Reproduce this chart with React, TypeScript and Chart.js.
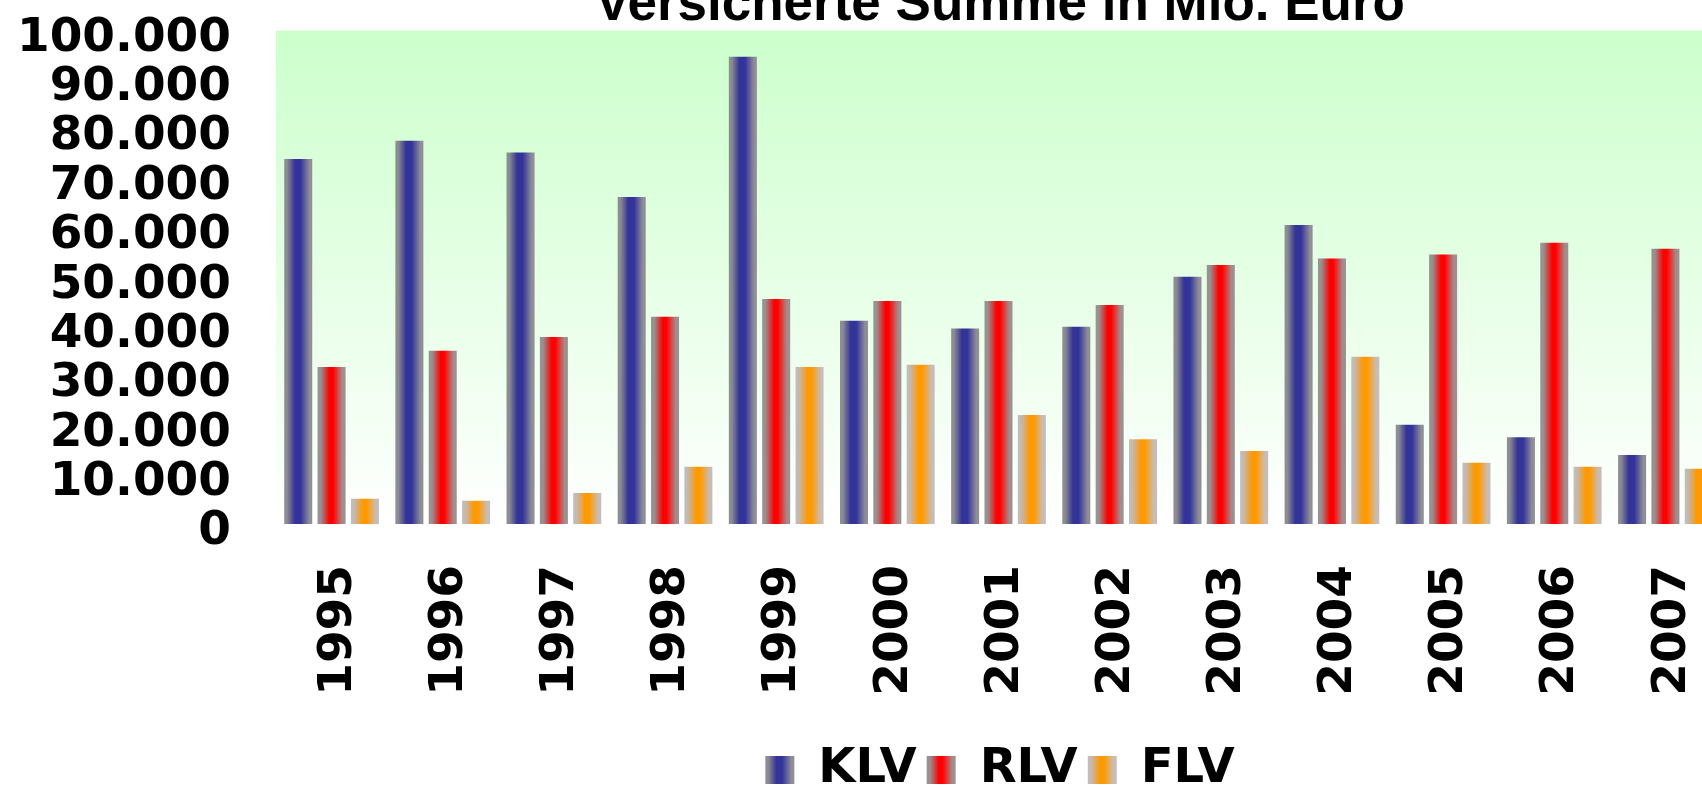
import React, { useEffect, useRef } from 'react';
import { Chart, registerables } from 'chart.js';

Chart.register(...registerables);

// ---- data ----
const years = ['1995', '1996', '1997', '1998', '1999', '2000', '2001', '2002', '2003', '2004', '2005', '2006', '2007'];
const klvValues = [74000, 77700, 75300, 66300, 94700, 41200, 39600, 40000, 50100, 60600, 20100, 17600, 14000];
const rlvValues = [31800, 35100, 37900, 42000, 45600, 45200, 45200, 44400, 52500, 53800, 54600, 57000, 55800];
const flvValues = [5100, 4700, 6300, 11600, 31800, 32300, 22100, 17200, 14800, 33900, 12400, 11600, 11200];
const seriesNames = ['KLV', 'RLV', 'FLV'];
const yMin = 0;
const yMax = 100000;
const yStep = 10000;
const titleText = 'Versicherte Summe in Mio. Euro';

// ---- styling ----
type Stops = [number, string][];
const barStops: Stops[] = [
  [[0, '#8e8e95'], [0.1, '#8b8b97'], [0.38, '#333399'], [0.58, '#333399'], [0.9, '#8e8e95'], [1, '#909090']],
  [[0, '#979494'], [0.12, '#a08c8c'], [0.42, '#ff0000'], [0.55, '#ff0000'], [0.88, '#a08c8c'], [1, '#979494']],
  [[0, '#c2bebe'], [0.12, '#c8b8aa'], [0.42, '#ff9900'], [0.56, '#ff9900'], [0.88, '#c8bcb4'], [1, '#c2bebe']],
];
const midColors = ['#333399', '#ff0000', '#ff9900'];
const CAT_PCT = 0.9;
const BAR_PCT = 0.84;
const CANVAS_W = 2000;
const CANVAS_H = 830;
const CANVAS_TOP = -26;

function fmt(v: number): string {
  return String(Math.round(v)).replace(/\B(?=(\d{3})+(?!\d))/g, '.');
}

function makeGradient(ctx: CanvasRenderingContext2D, x0: number, x1: number, stops: Stops) {
  const g = ctx.createLinearGradient(x0, 0, x1, 0);
  stops.forEach(([o, c]) => g.addColorStop(o, c));
  return g;
}

function barColor(dsIndex: number) {
  return (c: any) => {
    const chart = c.chart;
    const xs = chart.scales && chart.scales.x;
    if (!xs || c.type !== 'data' || !isFinite(xs.width) || xs.width <= 0) return midColors[dsIndex];
    const n = years.length;
    const cw = xs.width / n;
    const gw = cw * CAT_PCT;
    const slot = gw / 3;
    const bw = slot * BAR_PCT;
    const center = xs.getPixelForTick(c.dataIndex) - gw / 2 + slot * (dsIndex + 0.5);
    if (!isFinite(center)) return midColors[dsIndex];
    return makeGradient(chart.ctx, center - bw / 2, center + bw / 2, barStops[dsIndex]);
  };
}

const decorPlugin = {
  id: 'decor',
  beforeDraw(chart: any) {
    const { ctx, chartArea } = chart;
    if (chartArea) {
      const g = ctx.createLinearGradient(0, chartArea.top, 0, chartArea.bottom);
      g.addColorStop(0, '#ccffcc');
      g.addColorStop(1, '#ffffff');
      ctx.save();
      ctx.fillStyle = g;
      ctx.fillRect(chartArea.left, chartArea.top, chartArea.right - chartArea.left, chartArea.bottom - chartArea.top);
      ctx.restore();
    }
    const legend = chart.legend;
    if (legend && legend.legendItems && legend.legendHitBoxes) {
      const bw = legend.options.labels.boxWidth;
      legend.legendItems.forEach((item: any, i: number) => {
        const hb = legend.legendHitBoxes[i];
        if (!hb) return;
        item.fillStyle = makeGradient(ctx, hb.left, hb.left + bw, barStops[item.datasetIndex]);
      });
    }
  },
};

const xTickFont = { family: 'DejaVu Sans', weight: 'bold' as const, size: 47 };
const yTickFont = { family: 'DejaVu Sans', weight: 'bold' as const, size: 47, lineHeight: 0.4 };
const legendFont = { family: 'DejaVu Sans', weight: 'bold' as const, size: 48 };

export default function App() {
  const ref = useRef<HTMLCanvasElement | null>(null);

  useEffect(() => {
    if (!ref.current) return;
    const seriesValues = [klvValues, rlvValues, flvValues];
    const chart = new Chart(ref.current, {
      type: 'bar',
      data: {
        labels: years,
        datasets: seriesNames.map((name, i) => ({
          label: name,
          data: seriesValues[i],
          backgroundColor: barColor(i),
          borderWidth: 0,
          categoryPercentage: CAT_PCT,
          barPercentage: BAR_PCT,
        })),
      },
      options: {
        responsive: false,
        animation: false,
        events: [],
        devicePixelRatio: 1,
        layout: { padding: 0 },
        scales: {
          x: {
            grid: { display: false, drawTicks: false },
            border: { display: false },
            ticks: {
              font: xTickFont,
              color: '#000000',
              minRotation: 90,
              maxRotation: 90,
              autoSkip: false,
              padding: 41,
              labelOffset: 7,
            },
            afterFit: (s: any) => {
              s.height = 212;
            },
          },
          y: {
            min: yMin,
            max: yMax,
            grid: { display: false, drawTicks: false },
            border: { display: false },
            ticks: {
              stepSize: yStep,
              autoSkip: false,
              font: yTickFont,
              color: '#000000',
              padding: 45,
              labelOffset: 8,
              callback: (v: any) => fmt(Number(v)),
            },
            afterFit: (s: any) => {
              s.width = 276;
            },
          },
          yRight: {
            position: 'right',
            display: true,
            grid: { display: false, drawTicks: false },
            border: { display: false },
            ticks: { display: false },
            afterFit: (s: any) => {
              s.width = 279;
            },
          },
        },
        plugins: {
          title: {
            display: true,
            text: titleText,
            color: '#000000',
            font: { family: 'Liberation Sans', weight: 'bold', size: 53 },
            padding: { top: 0, bottom: -7 },
          },
          legend: {
            display: true,
            position: 'bottom',
            labels: {
              font: legendFont,
              color: '#000000',
              boxWidth: 29,
              boxHeight: 28,
              padding: 10,
            },
          },
          tooltip: { enabled: false },
        },
      },
      plugins: [decorPlugin],
    } as any);
    return () => chart.destroy();
  }, []);

  return (
    <div
      style={{
        position: 'fixed',
        left: 0,
        top: 0,
        width: 1702,
        height: 789,
        overflow: 'hidden',
        background: '#ffffff',
      }}
    >
      <canvas
        ref={ref}
        width={CANVAS_W}
        height={CANVAS_H}
        style={{ position: 'absolute', left: 0, top: CANVAS_TOP, width: CANVAS_W, height: CANVAS_H, display: 'block' }}
      />
    </div>
  );
}
